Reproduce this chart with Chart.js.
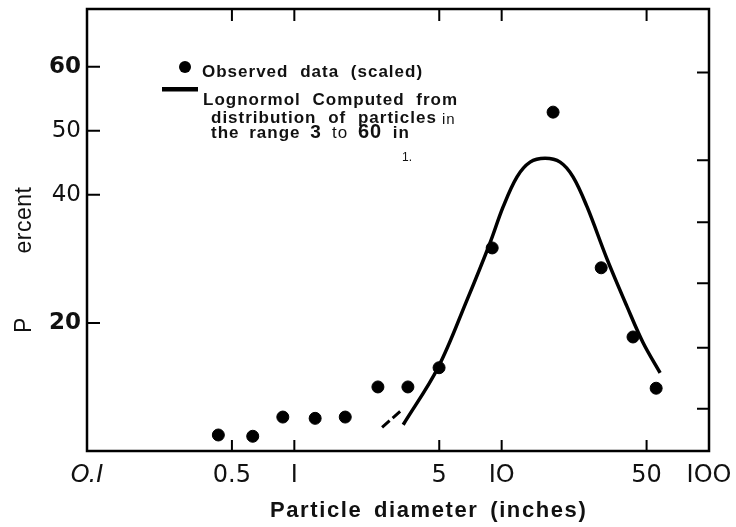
<!DOCTYPE html>
<html>
<head>
<meta charset="utf-8">
<script src="https://cdn.jsdelivr.net/npm/chart.js@4.4.1/dist/chart.umd.min.js"></script>
<style>
  html, body { margin: 0; padding: 0; background: #fff; }
  #wrap { position: relative; width: 736px; height: 527px; }
</style>
</head>
<body>
<div id="wrap"><canvas id="sizeChart" width="736" height="527"></canvas></div>
<script>
// Observed data (scaled): particle diameter (inches) vs percent
const obsDiameter = [0.43, 0.63, 0.88, 1.26, 1.76, 2.53, 3.53, 4.99, 9.0, 17.7, 30.2, 43.0, 55.6];
const obsPercent  = [2.5, 2.3, 5.3, 5.1, 5.3, 10.0, 10.0, 13.0, 31.7, 52.9, 28.6, 17.8, 9.8];

// Lognormal curve
const curveDiameter = [3.35, 4.93, 6.81, 8.79, 10.16, 11.86, 13.71, 16.19, 19.14, 22.09, 25.83, 32.2, 40.3, 48.1, 58.1];
const curvePercent  = [4.1, 13.0, 23.6, 32.5, 38.1, 42.8, 45.1, 45.7, 45.1, 42.8, 38.1, 30.0, 22.5, 16.9, 12.2];

// dashed extension of the curve below 3 in
const dashDiameter = [2.65, 3.3];
const dashPercent  = [3.7, 6.4];

// axes
const xTickValues = [0.1, 0.5, 1, 5, 10, 50, 100];
const xTickLabels = ['O.I', '0.5', 'I', '5', 'IO', '50', 'IOO'];
const xTickMarks  = [0.5, 1, 5, 10, 50];
const yTickValues = [20, 40, 50, 60];
const yTickLabels = ['20', '40', '50', '60'];
const yBoldTicks  = [20, 60];
const yRightMarks = [6.6, 16.1, 26.2, 35.7, 45.4, 59.1];

function toPoints(xs, ys) {
    return xs.map((x, i) => ({ x: x, y: ys[i] }));
}

/**
 * Frame, inward tick marks, legend and axis titles
 */
const framePlugin = {
    id: 'frame',
    afterDraw(chart) {
        const ctx = chart.ctx;
        const a = chart.chartArea;
        const xs = chart.scales.x;
        const ys = chart.scales.y;

        ctx.save();
        ctx.strokeStyle = '#000';
        ctx.lineWidth = 2.5;
        ctx.strokeRect(a.left, a.top, a.right - a.left, a.bottom - a.top);

        ctx.lineWidth = 2;
        ctx.beginPath();
        xTickMarks.forEach(v => {
            const px = xs.getPixelForValue(v);
            ctx.moveTo(px, a.top); ctx.lineTo(px, a.top + 12);
            ctx.moveTo(px, a.bottom); ctx.lineTo(px, a.bottom - 11);
        });
        yTickValues.forEach(v => {
            const py = ys.getPixelForValue(v);
            ctx.moveTo(a.left, py); ctx.lineTo(a.left + 13, py);
        });
        yRightMarks.forEach(v => {
            const py = ys.getPixelForValue(v);
            ctx.moveTo(a.right, py); ctx.lineTo(a.right - 12, py);
        });
        ctx.stroke();

        // legend
        ctx.fillStyle = '#000';
        ctx.beginPath();
        ctx.arc(185, 67, 6, 0, Math.PI * 2);
        ctx.fill();
        ctx.fillRect(162, 87, 36, 4.5);

        ctx.fillStyle = '#111';
        ctx.textBaseline = 'alphabetic';
        ctx.textAlign = 'left';
        ctx.font = 'bold 17px "Liberation Sans", Arial, sans-serif';
        ctx.letterSpacing = '1px';
        ctx.wordSpacing = '6px';
        ctx.fillText('Observed data (scaled)', 202, 77);
        ctx.fillText('Lognormol Computed from', 203, 105);
        ctx.fillText('distribution of particles', 211, 123);
        ctx.font = '15px "Liberation Sans", Arial, sans-serif';
        ctx.fillText('in', 442, 124);

        let x = 211;
        ctx.wordSpacing = '4px';
        const runs = [
            ['the range ', 'bold 17px "Liberation Sans", Arial, sans-serif'],
            ['3 ', 'bold 19px "Liberation Sans", Arial, sans-serif'],
            ['to ', '17px "Liberation Sans", Arial, sans-serif'],
            ['60 ', 'bold 20px "Liberation Sans", Arial, sans-serif'],
            ['in', 'bold 17px "Liberation Sans", Arial, sans-serif']
        ];
        runs.forEach(r => {
            ctx.font = r[1];
            ctx.fillText(r[0], x, 138);
            x += ctx.measureText(r[0]).width;
        });
        ctx.font = '12px "Liberation Sans", Arial, sans-serif';
        ctx.letterSpacing = '0px';
        ctx.wordSpacing = '0px';
        ctx.fillText('1.', 402, 161);

        // x axis title
        ctx.font = 'bold 22px "Liberation Sans", Arial, sans-serif';
        ctx.letterSpacing = '1.6px';
        ctx.wordSpacing = '4px';
        ctx.fillText('Particle diameter (inches)', 270, 517);

        // y axis title (split as in the figure)
        ctx.letterSpacing = '0.5px';
        ctx.wordSpacing = '0px';
        ctx.font = '23px "Liberation Sans", Arial, sans-serif';
        ctx.translate(31, 220);
        ctx.rotate(-Math.PI / 2);
        ctx.textAlign = 'center';
        ctx.fillText('ercent', 0, 0);
        ctx.rotate(Math.PI / 2);
        ctx.translate(0, 105);
        ctx.rotate(-Math.PI / 2);
        ctx.fillText('P', 0, 0);
        ctx.restore();
    }
};

function initChart() {
    const ctx = document.getElementById('sizeChart');

    new Chart(ctx, {
        type: 'scatter',
        data: {
            datasets: [{
                label: 'Observed data (scaled)',
                data: toPoints(obsDiameter, obsPercent),
                backgroundColor: '#000',
                borderColor: '#000',
                pointRadius: 6,
                pointHoverRadius: 6
            }, {
                label: 'Lognormol',
                data: toPoints(curveDiameter, curvePercent),
                showLine: true,
                borderColor: '#000',
                borderWidth: 3.5,
                pointRadius: 0,
                tension: 0.35
            }, {
                label: 'extension',
                data: toPoints(dashDiameter, dashPercent),
                showLine: true,
                borderColor: '#000',
                borderWidth: 3,
                borderDash: [10, 4],
                pointRadius: 0
            }]
        },
        options: {
            responsive: false,
            animation: false,
            devicePixelRatio: 1,
            layout: { padding: { top: 9, right: 27, left: 0, bottom: 0 } },
            plugins: {
                legend: { display: false },
                tooltip: { enabled: false }
            },
            scales: {
                x: {
                    type: 'logarithmic',
                    min: 0.1,
                    max: 100,
                    afterBuildTicks: s => { s.ticks = xTickValues.map(v => ({ value: v })); },
                    afterFit: s => {
                        s.height = 76;
                        s.paddingLeft = 0;
                        s.paddingRight = 0;
                    },
                    grid: { display: false, drawTicks: false },
                    border: { display: false },
                    ticks: {
                        autoSkip: false,
                        maxRotation: 0,
                        padding: 10,
                        color: '#111',
                        font: c => ({
                            family: '"DejaVu Sans", sans-serif',
                            size: 24,
                            style: c.index === 0 ? 'italic' : 'normal'
                        }),
                        callback: (v, i) => xTickLabels[i]
                    }
                },
                y: {
                    min: 0,
                    max: 69,
                    afterBuildTicks: s => { s.ticks = yTickValues.map(v => ({ value: v })); },
                    afterFit: s => {
                        s.width = 87;
                        s.paddingTop = 0;
                        s.paddingBottom = 0;
                    },
                    grid: { display: false, drawTicks: false },
                    border: { display: false },
                    ticks: {
                        padding: 6,
                        color: '#111',
                        font: c => ({
                            family: '"DejaVu Sans", sans-serif',
                            size: 23,
                            weight: yBoldTicks.includes(yTickValues[c.index]) ? 'bold' : 'normal'
                        }),
                        callback: (v, i) => yTickLabels[i]
                    }
                }
            }
        },
        plugins: [framePlugin]
    });
}

initChart();
</script>
</body>
</html>
